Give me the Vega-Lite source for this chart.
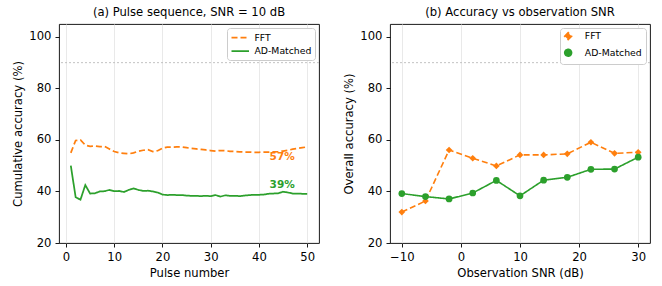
{
  "$schema": "https://vega.github.io/schema/vega-lite/v6.json",
  "padding": {"left": 12, "top": 6, "right": 5, "bottom": 4},
  "config": {
    "font": "DejaVu Sans",
    "view": {"stroke": "black", "strokeWidth": 0.9},
    "axis": {
      "labelFont": "DejaVu Sans", "labelFontSize": 11.6, "labelColor": "black",
      "titleFont": "DejaVu Sans", "titleFontSize": 11.6, "titleFontWeight": "normal", "titleColor": "black",
      "tickColor": "black", "tickSize": 4, "tickWidth": 0.9, "domain": false,
      "gridColor": "#e6e6e6", "gridWidth": 0.9, "labelPadding": 4, "titlePadding": 5
    },
    "title": {"font": "DejaVu Sans", "fontSize": 11.6, "fontWeight": "normal", "color": "black", "offset": 5},
    "legend": {
      "orient": "top-right", "offset": 4, "labelFont": "DejaVu Sans", "labelFontSize": 9.3, "labelColor": "black",
      "padding": 3.5, "strokeColor": "#cccccc", "fillColor": "white", "cornerRadius": 3,
      "symbolSize": 100, "symbolStrokeWidth": 1.75, "labelOffset": 12, "rowPadding": 1.6
    }
  },
  "resolve": {
    "scale": {"color": "independent", "strokeDash": "independent", "shape": "independent"},
    "legend": {"color": "independent", "strokeDash": "independent", "shape": "independent"}
  },
  "datasets": {
    "pulse": [
      {"pulse": 1, "method": "FFT", "acc": 55.0}, {"pulse": 2, "method": "FFT", "acc": 59.8}, {"pulse": 3, "method": "FFT", "acc": 60.0},
      {"pulse": 4, "method": "FFT", "acc": 58.0}, {"pulse": 5, "method": "FFT", "acc": 57.5}, {"pulse": 6, "method": "FFT", "acc": 57.6},
      {"pulse": 7, "method": "FFT", "acc": 57.4}, {"pulse": 8, "method": "FFT", "acc": 57.5}, {"pulse": 9, "method": "FFT", "acc": 56.5},
      {"pulse": 10, "method": "FFT", "acc": 55.5}, {"pulse": 11, "method": "FFT", "acc": 55.0}, {"pulse": 12, "method": "FFT", "acc": 54.8},
      {"pulse": 13, "method": "FFT", "acc": 54.6}, {"pulse": 14, "method": "FFT", "acc": 55.0}, {"pulse": 15, "method": "FFT", "acc": 55.6},
      {"pulse": 16, "method": "FFT", "acc": 56.0}, {"pulse": 17, "method": "FFT", "acc": 56.2}, {"pulse": 18, "method": "FFT", "acc": 55.5},
      {"pulse": 19, "method": "FFT", "acc": 55.8}, {"pulse": 20, "method": "FFT", "acc": 56.8}, {"pulse": 21, "method": "FFT", "acc": 57.2},
      {"pulse": 22, "method": "FFT", "acc": 57.2}, {"pulse": 23, "method": "FFT", "acc": 57.3}, {"pulse": 24, "method": "FFT", "acc": 57.3},
      {"pulse": 25, "method": "FFT", "acc": 57.0}, {"pulse": 26, "method": "FFT", "acc": 56.7}, {"pulse": 27, "method": "FFT", "acc": 56.5},
      {"pulse": 28, "method": "FFT", "acc": 56.3}, {"pulse": 29, "method": "FFT", "acc": 56.1}, {"pulse": 30, "method": "FFT", "acc": 55.9},
      {"pulse": 31, "method": "FFT", "acc": 55.7}, {"pulse": 32, "method": "FFT", "acc": 55.9}, {"pulse": 33, "method": "FFT", "acc": 55.8},
      {"pulse": 34, "method": "FFT", "acc": 55.6}, {"pulse": 35, "method": "FFT", "acc": 55.5}, {"pulse": 36, "method": "FFT", "acc": 55.4},
      {"pulse": 37, "method": "FFT", "acc": 55.3}, {"pulse": 38, "method": "FFT", "acc": 55.3}, {"pulse": 39, "method": "FFT", "acc": 55.2},
      {"pulse": 40, "method": "FFT", "acc": 55.2}, {"pulse": 41, "method": "FFT", "acc": 55.3}, {"pulse": 42, "method": "FFT", "acc": 55.3},
      {"pulse": 43, "method": "FFT", "acc": 55.4}, {"pulse": 44, "method": "FFT", "acc": 55.5}, {"pulse": 45, "method": "FFT", "acc": 55.7},
      {"pulse": 46, "method": "FFT", "acc": 56.0}, {"pulse": 47, "method": "FFT", "acc": 56.4}, {"pulse": 48, "method": "FFT", "acc": 56.7},
      {"pulse": 49, "method": "FFT", "acc": 57.0}, {"pulse": 50, "method": "FFT", "acc": 57.3},
      {"pulse": 1, "method": "AD-Matched", "acc": 50.0}, {"pulse": 2, "method": "AD-Matched", "acc": 37.8}, {"pulse": 3, "method": "AD-Matched", "acc": 36.8},
      {"pulse": 4, "method": "AD-Matched", "acc": 42.5}, {"pulse": 5, "method": "AD-Matched", "acc": 39.2}, {"pulse": 6, "method": "AD-Matched", "acc": 39.3},
      {"pulse": 7, "method": "AD-Matched", "acc": 40.0}, {"pulse": 8, "method": "AD-Matched", "acc": 40.1}, {"pulse": 9, "method": "AD-Matched", "acc": 40.6},
      {"pulse": 10, "method": "AD-Matched", "acc": 40.1}, {"pulse": 11, "method": "AD-Matched", "acc": 40.2}, {"pulse": 12, "method": "AD-Matched", "acc": 39.8},
      {"pulse": 13, "method": "AD-Matched", "acc": 40.6}, {"pulse": 14, "method": "AD-Matched", "acc": 41.2}, {"pulse": 15, "method": "AD-Matched", "acc": 40.6},
      {"pulse": 16, "method": "AD-Matched", "acc": 40.2}, {"pulse": 17, "method": "AD-Matched", "acc": 40.3}, {"pulse": 18, "method": "AD-Matched", "acc": 40.0},
      {"pulse": 19, "method": "AD-Matched", "acc": 39.6}, {"pulse": 20, "method": "AD-Matched", "acc": 38.8}, {"pulse": 21, "method": "AD-Matched", "acc": 38.6},
      {"pulse": 22, "method": "AD-Matched", "acc": 38.7}, {"pulse": 23, "method": "AD-Matched", "acc": 38.6}, {"pulse": 24, "method": "AD-Matched", "acc": 38.6},
      {"pulse": 25, "method": "AD-Matched", "acc": 38.4}, {"pulse": 26, "method": "AD-Matched", "acc": 38.3}, {"pulse": 27, "method": "AD-Matched", "acc": 38.3},
      {"pulse": 28, "method": "AD-Matched", "acc": 38.2}, {"pulse": 29, "method": "AD-Matched", "acc": 38.3}, {"pulse": 30, "method": "AD-Matched", "acc": 38.2},
      {"pulse": 31, "method": "AD-Matched", "acc": 38.6}, {"pulse": 32, "method": "AD-Matched", "acc": 38.0}, {"pulse": 33, "method": "AD-Matched", "acc": 38.5},
      {"pulse": 34, "method": "AD-Matched", "acc": 38.3}, {"pulse": 35, "method": "AD-Matched", "acc": 38.3}, {"pulse": 36, "method": "AD-Matched", "acc": 38.2},
      {"pulse": 37, "method": "AD-Matched", "acc": 38.4}, {"pulse": 38, "method": "AD-Matched", "acc": 38.6}, {"pulse": 39, "method": "AD-Matched", "acc": 38.7},
      {"pulse": 40, "method": "AD-Matched", "acc": 38.7}, {"pulse": 41, "method": "AD-Matched", "acc": 38.8}, {"pulse": 42, "method": "AD-Matched", "acc": 39.1},
      {"pulse": 43, "method": "AD-Matched", "acc": 39.2}, {"pulse": 44, "method": "AD-Matched", "acc": 39.3}, {"pulse": 45, "method": "AD-Matched", "acc": 39.9},
      {"pulse": 46, "method": "AD-Matched", "acc": 39.6}, {"pulse": 47, "method": "AD-Matched", "acc": 39.2}, {"pulse": 48, "method": "AD-Matched", "acc": 39.2},
      {"pulse": 49, "method": "AD-Matched", "acc": 39.1}, {"pulse": 50, "method": "AD-Matched", "acc": 39.1}
    ],
    "snr": [
      {"snr": -10, "method": "FFT", "acc": 32.0}, {"snr": -6, "method": "FFT", "acc": 36.3}, {"snr": -2, "method": "FFT", "acc": 56.1},
      {"snr": 2, "method": "FFT", "acc": 52.9}, {"snr": 6, "method": "FFT", "acc": 49.9}, {"snr": 10, "method": "FFT", "acc": 54.2},
      {"snr": 14, "method": "FFT", "acc": 54.2}, {"snr": 18, "method": "FFT", "acc": 54.6}, {"snr": 22, "method": "FFT", "acc": 59.1},
      {"snr": 26, "method": "FFT", "acc": 54.8}, {"snr": 30, "method": "FFT", "acc": 55.2},
      {"snr": -10, "method": "AD-Matched", "acc": 39.2}, {"snr": -6, "method": "AD-Matched", "acc": 38.0}, {"snr": -2, "method": "AD-Matched", "acc": 37.1},
      {"snr": 2, "method": "AD-Matched", "acc": 39.4}, {"snr": 6, "method": "AD-Matched", "acc": 44.3}, {"snr": 10, "method": "AD-Matched", "acc": 38.3},
      {"snr": 14, "method": "AD-Matched", "acc": 44.4}, {"snr": 18, "method": "AD-Matched", "acc": 45.5}, {"snr": 22, "method": "AD-Matched", "acc": 48.6},
      {"snr": 26, "method": "AD-Matched", "acc": 48.7}, {"snr": 30, "method": "AD-Matched", "acc": 53.3}
    ],
    "one": [{}]
  },
  "spacing": 23,
  "hconcat": [
    {
      "width": 260, "height": 219,
      "title": "(a) Pulse sequence, SNR = 10 dB",
      "encoding": {
        "x": {"type": "quantitative", "scale": {"domain": [-1.45, 52.45], "nice": false, "zero": false},
              "axis": {"values": [0, 10, 20, 30, 40, 50], "title": "Pulse number"}},
        "y": {"type": "quantitative", "scale": {"domain": [20, 105], "nice": false},
              "axis": {"values": [20, 40, 60, 80, 100], "title": "Cumulative accuracy (%)"}}
      },
      "layer": [
        {"data": {"name": "one"}, "mark": {"type": "rule", "color": "#bbbbbb", "strokeDash": [2, 2], "strokeWidth": 0.9},
         "encoding": {"y": {"datum": 90, "type": "quantitative"}}},
        {"data": {"name": "pulse"}, "mark": {"type": "line", "strokeWidth": 1.75},
         "encoding": {
           "x": {"field": "pulse", "type": "quantitative"},
           "y": {"field": "acc", "type": "quantitative"},
           "color": {"field": "method", "type": "nominal", "scale": {"domain": ["FFT", "AD-Matched"], "range": ["#ff7f0e", "#2ca02c"]},
                     "legend": {"title": null, "symbolType": "M-1,0L2.5,0"}},
           "strokeDash": {"field": "method", "type": "nominal", "scale": {"domain": ["FFT", "AD-Matched"], "range": [[6, 3], [1, 0]]},
                     "legend": {"title": null, "symbolType": "M-1,0L2.5,0"}}
         }},
        {"data": {"name": "pulse"},
         "transform": [{"filter": "datum.pulse == 50 && datum.method == 'FFT'"}, {"calculate": "format(datum.acc, '.0f') + '%'", "as": "label"}],
         "mark": {"type": "text", "fontWeight": "bold", "fontSize": 10.5, "color": "#ff7f0e", "dx": -25, "dy": 10},
         "encoding": {"x": {"field": "pulse", "type": "quantitative"}, "y": {"field": "acc", "type": "quantitative"}, "text": {"field": "label"}}},
        {"data": {"name": "pulse"},
         "transform": [{"filter": "datum.pulse == 50 && datum.method == 'AD-Matched'"}, {"calculate": "format(datum.acc, '.0f') + '%'", "as": "label"}],
         "mark": {"type": "text", "fontWeight": "bold", "fontSize": 10.5, "color": "#2ca02c", "dx": -25, "dy": -9},
         "encoding": {"x": {"field": "pulse", "type": "quantitative"}, "y": {"field": "acc", "type": "quantitative"}, "text": {"field": "label"}}}
      ]
    },
    {
      "width": 260, "height": 219,
      "title": "(b) Accuracy vs observation SNR",
      "encoding": {
        "x": {"type": "quantitative", "scale": {"domain": [-12, 32], "nice": false, "zero": false},
              "axis": {"values": [-10, 0, 10, 20, 30], "title": "Observation SNR (dB)", "format": "~f", "labelExpr": "replace(datum.label, '-', '−')"}},
        "y": {"type": "quantitative", "scale": {"domain": [20, 105], "nice": false},
              "axis": {"values": [20, 40, 60, 80, 100], "title": "Overall accuracy (%)"}}
      },
      "layer": [
        {"data": {"name": "one"}, "mark": {"type": "rule", "color": "#bbbbbb", "strokeDash": [2, 2], "strokeWidth": 0.9},
         "encoding": {"y": {"datum": 90, "type": "quantitative"}}},
        {"data": {"name": "snr"}, "mark": {"type": "line", "strokeWidth": 1.6},
         "encoding": {
           "x": {"field": "snr", "type": "quantitative"},
           "y": {"field": "acc", "type": "quantitative"},
           "color": {"field": "method", "type": "nominal", "scale": {"domain": ["FFT", "AD-Matched"], "range": ["#ff7f0e", "#2ca02c"]},
                     "legend": {"title": null, "symbolSize": 45}},
           "strokeDash": {"field": "method", "type": "nominal", "scale": {"domain": ["FFT", "AD-Matched"], "range": [[6, 3], [1, 0]]},
                     "legend": {"title": null, "symbolSize": 45}}
         }},
        {"data": {"name": "snr"}, "mark": {"type": "point", "filled": true, "opacity": 1, "size": 45},
         "encoding": {
           "x": {"field": "snr", "type": "quantitative"},
           "y": {"field": "acc", "type": "quantitative"},
           "color": {"field": "method", "type": "nominal", "legend": {"title": null, "symbolSize": 45}},
           "shape": {"field": "method", "type": "nominal", "scale": {"domain": ["FFT", "AD-Matched"], "range": ["diamond", "circle"]},
                     "legend": {"title": null, "symbolSize": 45}}
         }}
      ]
    }
  ]
}
